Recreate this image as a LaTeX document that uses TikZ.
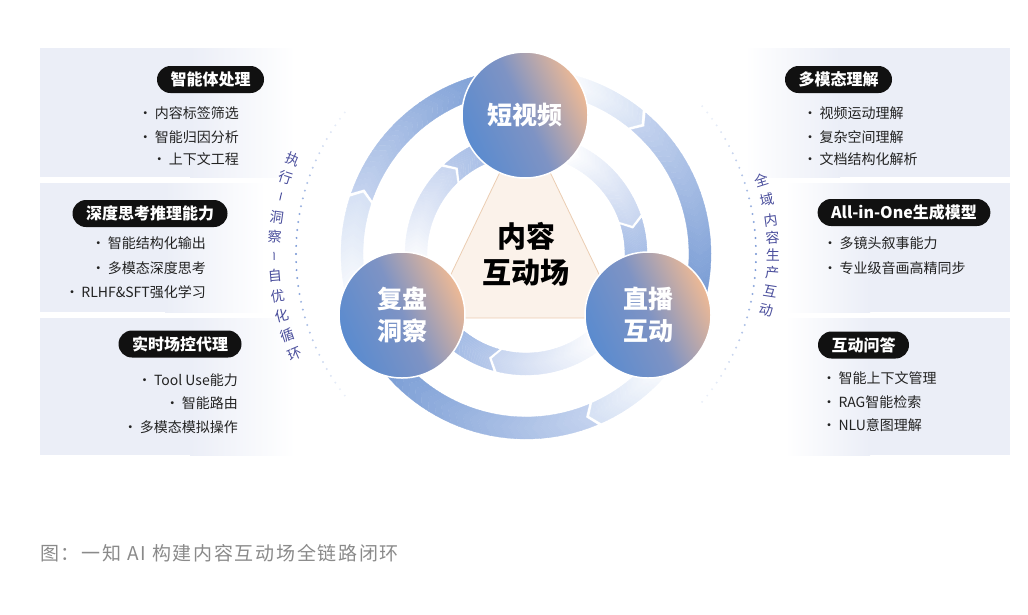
\documentclass[tikz,border=0pt]{standalone}
\usepackage{fontspec}
\setmainfont{Noto Sans CJK SC}
\usetikzlibrary{positioning, shapes.misc, shapes.geometric}
\definecolor{panelBg}{HTML}{EBEEF7}
\definecolor{pillInk}{HTML}{111111}
\definecolor{itemInk}{HTML}{222222}
\definecolor{nodeBlue}{HTML}{5A8BCF}
\definecolor{nodeMid}{HTML}{7E93C4}
\definecolor{nodePeach}{HTML}{EDB995}
\definecolor{innerLight}{HTML}{C9D6F0}
\definecolor{innerMid}{HTML}{B7C9EA}
\definecolor{innerDark}{HTML}{9CB6E3}
\definecolor{outerLight}{HTML}{D6E1F4}
\definecolor{outerMid}{HTML}{C3D2EE}
\definecolor{outerDark}{HTML}{7599D3}
\definecolor{triFill}{HTML}{FBF2EA}
\definecolor{triLine}{HTML}{EBCDB2}
\definecolor{dotBlue}{HTML}{6F90D2}
\definecolor{loopText}{HTML}{4A4E9C}
\definecolor{capGray}{HTML}{8A8A8A}

% one piece of a ring: radius, from, to, colour from, colour to, chevron (deg)
\newcommand{\ringpiece}[6]{%
  \foreach \k in {1,...,30}{%
    \pgfmathsetmacro{\ta}{#2+(#3-#2)*(\k-1)/30}%
    \pgfmathsetmacro{\tb}{#2+(#3-#2)*\k/30}%
    \pgfmathtruncatemacro{\pc}{100*(\k-0.5)/30}%
    \filldraw[draw=#5!\pc!#4, fill=#5!\pc!#4, line width=0.3pt]
      ([shift={(\ta:{#1+11})}]ctr) -- ([shift={({\ta+#6}:#1)}]ctr)
      -- ([shift={(\ta:{#1-11})}]ctr) -- ([shift={(\tb:{#1-11})}]ctr)
      -- ([shift={({\tb+#6}:#1)}]ctr) -- ([shift={(\tb:{#1+11})}]ctr) -- cycle;
  }%
}

\begin{document}
\begin{tikzpicture}[x=1pt, y=-1pt,
    pill/.style={rectangle, rounded corners=13.5pt, fill=pillInk, text=white,
                 font=\fontsize{16}{18}\selectfont\bfseries, minimum height=27pt,
                 inner xsep=13.5pt, inner ysep=0pt},
    item/.style={font=\fontsize{14}{16}\selectfont, text=itemInk, inner sep=0pt},
    hub/.style={circle, minimum size=126pt, inner sep=0pt, draw=white, line width=1.5pt,
                top color=nodePeach, bottom color=nodeBlue, middle color=nodeMid,
                shading angle=-65, text=white,
                font=\fontsize{25}{32}\selectfont\bfseries, align=center},
    looplbl/.style={font=\fontsize{14}{14}\selectfont, text=loopText, inner sep=0pt},
    caption/.style={font=\fontsize{19}{22}\selectfont\addfontfeatures{LetterSpace=9},
                    text=capGray, inner sep=0pt},
  ]
    \useasboundingbox (0,0) rectangle (1028,614);
    \coordinate (ctr) at (526,254);

    % side panels
    \fill[panelBg] (40,48) rectangle (190,177);
    \shade[left color=panelBg, right color=white] (190,48) rectangle (295,177);
    \fill[panelBg] (40,183) rectangle (165,312);
    \shade[left color=panelBg, right color=white] (165,183) rectangle (265,312);
    \fill[panelBg] (40,318) rectangle (190,455);
    \shade[left color=panelBg, right color=white] (190,318) rectangle (295,455);
    \fill[panelBg] (840,48) rectangle (1010,177);
    \shade[left color=white, right color=panelBg] (745,48) rectangle (840,177);
    \fill[panelBg] (870,183) rectangle (1010,312);
    \shade[left color=white, right color=panelBg] (785,183) rectangle (870,312);
    \fill[panelBg] (870,318) rectangle (1010,455);
    \shade[left color=white, right color=panelBg] (785,318) rectangle (870,455);

    \node[pill] (l1) at (210.5,79.5) {智能体处理};
    \node[item, anchor=east] (l1a) at (239,113) {•\,内容标签筛选};
    \node[item, anchor=east] (l1b) at (239,137) {•\,智能归因分析};
    \node[item, anchor=east] (l1c) at (239,159) {•\,上下文工程};
    \node[pill] (l2) at (150,213.5) {深度思考推理能力};
    \node[item, anchor=east] (l2a) at (206,243) {•\,智能结构化输出};
    \node[item, anchor=east] (l2b) at (206,268) {•\,多模态深度思考};
    \node[item, anchor=east] (l2c) at (206,292) {•\,RLHF\&SFT强化学习};
    \node[pill] (l3) at (180,344) {实时场控代理};
    \node[item, anchor=east] (l3a) at (238,380) {•\,Tool Use能力};
    \node[item, anchor=east] (l3b) at (238,403) {•\,智能路由};
    \node[item, anchor=east] (l3c) at (238,427) {•\,多模态模拟操作};

    \node[pill] (r1) at (838.5,79.5) {多模态理解};
    \node[item, anchor=west] (r1a) at (803,113) {•\,视频运动理解};
    \node[item, anchor=west] (r1b) at (803,137) {•\,复杂空间理解};
    \node[item, anchor=west] (r1c) at (803,159) {•\,文档结构化解析};
    \node[pill] (r2) at (904,212.5) {All-in-One生成模型};
    \node[item, anchor=west] (r2a) at (823,243) {•\,多镜头叙事能力};
    \node[item, anchor=west] (r2b) at (823,268) {•\,专业级音画高精同步};
    \node[pill] (r3) at (863.5,345) {互动问答};
    \node[item, anchor=west] (r3a) at (822,378) {•\,智能上下文管理};
    \node[item, anchor=west] (r3b) at (822,402) {•\,RAG智能检索};
    \node[item, anchor=west] (r3c) at (822,425) {•\,NLU意图理解};

    % dotted arcs and loop labels
    \foreach \a in {142,144,...,218}{
      \pgfmathsetmacro{\op}{max(0.15,1-abs(\a-180)/42)}
      \fill[dotBlue, opacity=\op] ([shift={(\a:230)}]ctr) circle[radius=1.1pt];
    }
    \foreach \a in {-40,-38,...,40}{
      \pgfmathsetmacro{\op}{max(0.15,1-abs(\a)/42)}
      \fill[dotBlue, opacity=\op] ([shift={(\a:230)}]ctr) circle[radius=1.1pt];
    }
    \foreach \a/\ch in {202.1/执, 197.7/行, 193.2/\rule{1pt}{8pt}, 188.4/洞, 184.0/察,
                        179.6/\rule{1pt}{8pt}, 175.0/自, 170.4/优, 165.8/化, 161.2/循, 156.6/环}
      \node[looplbl, rotate={180-\a}] at ([shift={(\a:252)}]ctr) {\ch};
    \foreach \a/\ch in {-17.4/全, -12.6/域, -7.9/内, -3.9/容, 0.2/生, 4.4/产, 8.8/互, 13.1/动}
      \node[looplbl, rotate={-\a}] at ([shift={(\a:247)}]ctr) {\ch};

    % rings
    \ringpiece{174}{280}{309}{white}{outerLight}{2.6}
    \ringpiece{174}{310.3}{375}{outerMid}{outerDark}{2.6}
    \ringpiece{174}{35}{66}{white}{outerLight}{2.6}
    \ringpiece{174}{67.3}{145}{outerMid}{outerDark}{2.6}
    \ringpiece{174}{160}{198}{white}{outerLight}{2.6}
    \ringpiece{174}{199.3}{262}{outerMid}{outerDark}{2.6}
    \ringpiece{110}{170}{226}{white}{innerLight}{4}
    \ringpiece{110}{227.8}{262}{innerMid}{innerDark}{4}
    \ringpiece{110}{290}{341}{white}{innerLight}{4}
    \ringpiece{110}{342.8}{372}{innerMid}{innerDark}{4}
    \ringpiece{110}{45}{104}{white}{innerLight}{4}
    \ringpiece{110}{105.8}{135}{innerMid}{innerDark}{4}

    \draw[triLine, fill=triFill, line width=0.8pt] (525,120) -- (430,318) -- (620,318) -- cycle;

    \node[hub] (sv) at (525,115) {短视频};
    \node[hub] (fp) at (402,315) {复盘\\洞察};
    \node[hub] (zb) at (648,315) {直播\\互动};
    \node[font=\fontsize{29}{36}\selectfont\bfseries, align=center] (core) at (526,254) {内容\\互动场};

    \node[caption, anchor=west] (cap) at (40,553) {图：一知 AI 构建内容互动场全链路闭环};
\end{tikzpicture}
\end{document}
